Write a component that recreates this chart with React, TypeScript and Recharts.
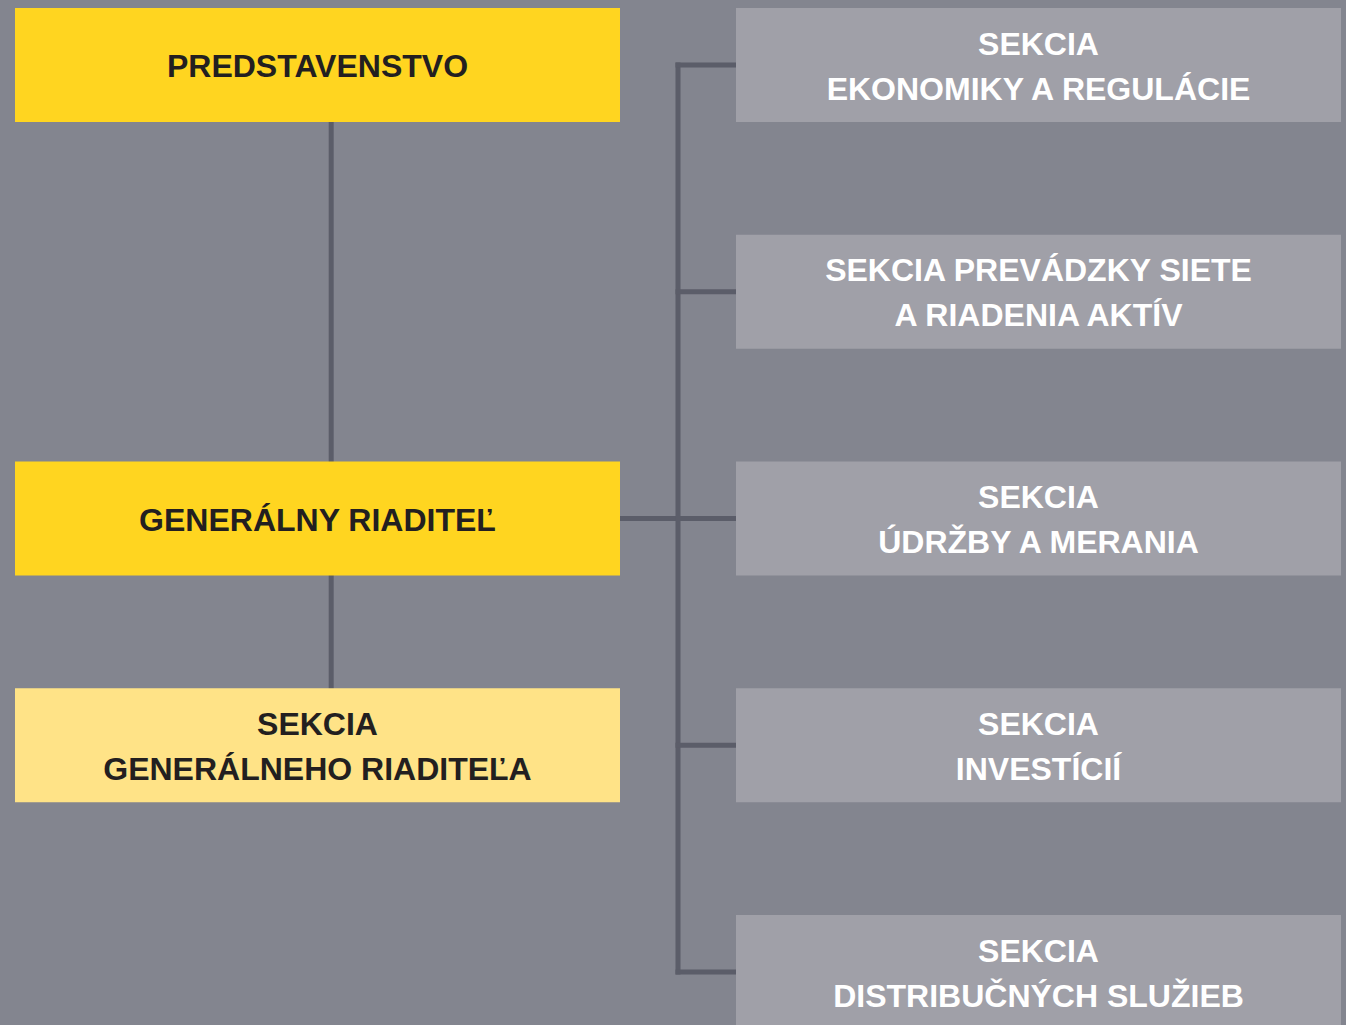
import React from 'react';
import { ScatterChart, Scatter, XAxis, YAxis } from 'recharts';

// org units, left column (management) and right column (sections)
const leftUnits = ['PREDSTAVENSTVO', 'GENERÁLNY RIADITEĽ', 'SEKCIA\nGENERÁLNEHO RIADITEĽA'];
const leftRows = [0, 2, 3];
const leftFills = ['#FFD520', '#FFD520', '#FFE387'];

const rightUnits = [
  'SEKCIA\nEKONOMIKY A REGULÁCIE',
  'SEKCIA PREVÁDZKY SIETE\nA RIADENIA AKTÍV',
  'SEKCIA\nÚDRŽBY A MERANIA',
  'SEKCIA\nINVESTÍCIÍ',
  'SEKCIA\nDISTRIBUČNÝCH SLUŽIEB',
];
const rightRows = [0, 1, 2, 3, 4];

// links: [fromCol, fromRow, toCol, toRow]
const links = [
  [0.019, 0, 0.019, 3],
  [0, 2, 0.5, 2],
  [0.5, 0, 0.5, 4],
  ...rightRows.map((r) => [0.5, r, 1, r]),
];

const W = 1346;
const H = 1025;
const COL_PX = 721;
const COL0_PX = 317.5;
const ROW_PX = 226.75;
const ROW0_PX = 65;
const BOX_W = 605 / COL_PX;
const BOX_H = 114 / ROW_PX;

const xDomain = [-COL0_PX / COL_PX, (W - COL0_PX) / COL_PX];
const yDomain = [-ROW0_PX / ROW_PX, (H - ROW0_PX) / ROW_PX];

const leftData = leftUnits.map((name, i) => ({ x: 0, y: leftRows[i], name, fill: leftFills[i], color: '#231F20' }));
const rightData = rightUnits.map((name, i) => ({ x: 1, y: rightRows[i], name, fill: '#A0A0A8', color: '#FFFFFF' }));

const FONT = 32;

function UnitBox(props: any) {
  const { cx, cy, payload } = props;
  const w = BOX_W * COL_PX;
  const h = BOX_H * ROW_PX;
  const lines: string[] = payload.name.split('\n');
  const gap = 45;
  return (
    <g>
      <rect x={cx - w / 2} y={cy - h / 2} width={w} height={h} fill={payload.fill} />
      {lines.map((t, i) => (
        <text
          key={i}
          x={cx}
          y={cy + (i - (lines.length - 1) / 2) * gap + FONT * 0.38}
          textAnchor="middle"
          fill={payload.color}
          fontFamily='"Liberation Sans", Arial, sans-serif'
          fontWeight="bold"
          fontSize={FONT}
        >
          {t}
        </text>
      ))}
    </g>
  );
}

export default function App() {
  return (
    <div style={{ position: 'fixed', left: 0, top: 0, width: W, height: H, background: '#83858F' }}>
      <ScatterChart width={W} height={H} margin={{ top: 0, right: 0, bottom: 0, left: 0 }}>
        <XAxis type="number" dataKey="x" domain={xDomain} hide allowDataOverflow />
        <YAxis type="number" dataKey="y" domain={yDomain} reversed hide allowDataOverflow />
        {links.map((l, i) => (
          <Scatter
            key={`link-${i}`}
            data={[{ x: l[0], y: l[1] }, { x: l[2], y: l[3] }]}
            line={{ stroke: '#5B5D69', strokeWidth: 5, strokeLinecap: 'square' }}
            shape={() => <g />}
            isAnimationActive={false}
          />
        ))}
        <Scatter data={leftData} shape={UnitBox} isAnimationActive={false} />
        <Scatter data={rightData} shape={UnitBox} isAnimationActive={false} />
      </ScatterChart>
    </div>
  );
}
